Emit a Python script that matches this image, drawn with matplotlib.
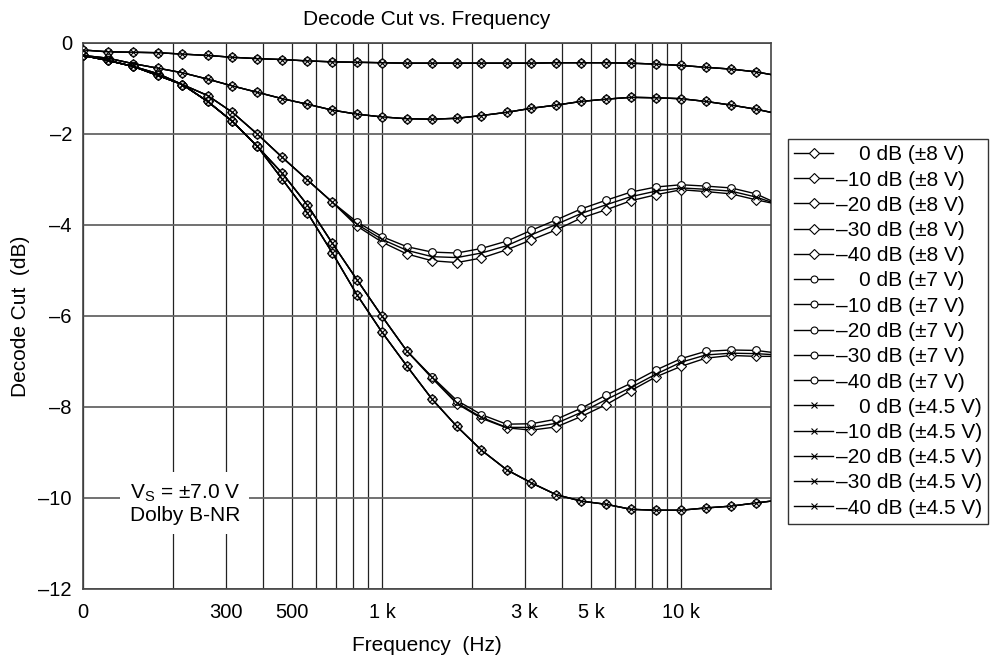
import numpy as np
import matplotlib
matplotlib.use("Agg")
import matplotlib.pyplot as plt
from matplotlib.ticker import FixedLocator, FixedFormatter, NullFormatter

plt.rcParams['font.family'] = ['Liberation Sans', 'DejaVu Sans']
plt.rcParams['mathtext.fontset'] = 'custom'
plt.rcParams['mathtext.rm'] = 'Liberation Sans'

# frequency points (Hz), 12 per decade, plus the 20 kHz end point (no marker)
freqs = [100, 121, 147, 178, 215, 261, 316, 383, 464, 562, 681, 825,
         1000, 1210, 1470, 1780, 2150, 2610, 3160, 3830, 4640, 5620, 6810,
         8250, 10000, 12100, 14700, 17800, 20000]

# decode cut (dB)
# 0 dB level - all supplies on top of each other
cut_0db = [-0.16, -0.20, -0.21, -0.22, -0.25, -0.28, -0.32, -0.35, -0.37, -0.40,
           -0.42, -0.43, -0.44, -0.45, -0.45, -0.45, -0.45, -0.45, -0.45, -0.44,
           -0.44, -0.44, -0.45, -0.47, -0.50, -0.54, -0.58, -0.64, -0.70]
# -10 dB level
cut_10db = [-0.28, -0.34, -0.46, -0.56, -0.66, -0.80, -0.95, -1.09, -1.23, -1.35,
            -1.48, -1.57, -1.63, -1.67, -1.68, -1.66, -1.60, -1.53, -1.44, -1.37,
            -1.29, -1.24, -1.20, -1.21, -1.23, -1.29, -1.37, -1.46, -1.53]
# -20 dB level, per supply
cut_20db_8v = [-0.28, -0.39, -0.52, -0.68, -0.92, -1.16, -1.53, -2.01, -2.52, -3.01,
               -3.50, -4.03, -4.38, -4.64, -4.79, -4.83, -4.73, -4.55, -4.33, -4.11,
               -3.85, -3.67, -3.47, -3.34, -3.23, -3.27, -3.32, -3.45, -3.52]
cut_20db_7v = [-0.28, -0.39, -0.52, -0.68, -0.92, -1.16, -1.53, -2.01, -2.52, -3.01,
               -3.50, -3.94, -4.26, -4.48, -4.60, -4.62, -4.52, -4.36, -4.12, -3.89,
               -3.65, -3.46, -3.28, -3.17, -3.12, -3.15, -3.19, -3.32, -3.47]
cut_20db_45v = [-0.28, -0.39, -0.52, -0.68, -0.92, -1.16, -1.53, -2.01, -2.52, -3.01,
                -3.50, -3.99, -4.32, -4.56, -4.70, -4.72, -4.62, -4.46, -4.22, -3.99,
                -3.75, -3.56, -3.38, -3.26, -3.19, -3.22, -3.26, -3.39, -3.50]
# -30 dB level, per supply
cut_30db_8v = [-0.28, -0.39, -0.52, -0.72, -0.92, -1.29, -1.73, -2.28, -2.87, -3.56,
               -4.40, -5.21, -6.01, -6.77, -7.37, -7.93, -8.25, -8.46, -8.51, -8.44,
               -8.21, -7.95, -7.64, -7.34, -7.11, -6.93, -6.87, -6.89, -6.89]
cut_30db_7v = [-0.28, -0.39, -0.52, -0.72, -0.92, -1.29, -1.73, -2.28, -2.87, -3.56,
               -4.40, -5.21, -6.01, -6.77, -7.34, -7.86, -8.17, -8.38, -8.37, -8.27,
               -8.03, -7.74, -7.48, -7.19, -6.94, -6.78, -6.75, -6.76, -6.80]
cut_30db_45v = [-0.28, -0.39, -0.52, -0.72, -0.92, -1.29, -1.73, -2.28, -2.87, -3.56,
                -4.40, -5.21, -6.01, -6.77, -7.35, -7.91, -8.23, -8.45, -8.45, -8.36,
                -8.12, -7.84, -7.57, -7.28, -7.02, -6.86, -6.82, -6.83, -6.85]
# -40 dB level
cut_40db = [-0.28, -0.39, -0.52, -0.72, -0.92, -1.29, -1.73, -2.28, -3.00, -3.73,
            -4.61, -5.54, -6.36, -7.10, -7.83, -8.43, -8.95, -9.38, -9.67, -9.93,
            -10.07, -10.14, -10.25, -10.27, -10.27, -10.22, -10.18, -10.11, -10.07]

levels = ['0 dB', '\u201310 dB', '\u201320 dB', '\u201330 dB', '\u201340 dB']
supplies = ['\u00b18 V', '\u00b17 V', '\u00b14.5 V']
series = {
    '\u00b18 V': [cut_0db, cut_10db, cut_20db_8v, cut_30db_8v, cut_40db],
    '\u00b17 V': [cut_0db, cut_10db, cut_20db_7v, cut_30db_7v, cut_40db],
    '\u00b14.5 V': [cut_0db, cut_10db, cut_20db_45v, cut_30db_45v, cut_40db],
}

xticks = [100, 300, 500, 1000, 3000, 5000, 10000]
xtick_labels = ['0', '300', '500', '1 k', '3 k', '5 k', '10 k']
xminor = [200, 400, 600, 700, 800, 900, 2000, 4000, 6000, 7000, 8000, 9000]
yticks = [0, -2, -4, -6, -8, -10, -12]
ytick_labels = ['0', '\u20132', '\u20134', '\u20136', '\u20138', '\u201310', '\u201312']

fig = plt.figure(figsize=(10.03, 6.6), dpi=100)
ax = fig.add_axes([0.0828, 0.1076, 0.6859, 0.8277])

styles = {
    '\u00b18 V': dict(marker='D', ms=5.5, mfc='white', mec='black', mew=0.8, zorder=3),
    '\u00b17 V': dict(marker='o', ms=5.5, mfc='white', mec='black', mew=0.8, zorder=4),
    '\u00b14.5 V': dict(marker='x', ms=4.5, mec='black', mew=0.8, zorder=5),
}

handles = []
labels = []
for sup in supplies:
    for lev, vals in zip(levels, series[sup]):
        ln, = ax.plot(freqs, vals, color='black', lw=1.0,
                      markevery=slice(0, 28), **styles[sup])
        handles.append(ln)
        name = lev if lev != '0 dB' else '    0 dB'
        labels.append(f'{name} ({sup})')

ax.set_xscale('log')
ax.set_xlim(100, 20000)
ax.set_ylim(-12, 0)
ax.xaxis.set_major_locator(FixedLocator(xticks))
ax.xaxis.set_major_formatter(FixedFormatter(xtick_labels))
ax.xaxis.set_minor_locator(FixedLocator(xminor))
ax.xaxis.set_minor_formatter(NullFormatter())
ax.yaxis.set_major_locator(FixedLocator(yticks))
ax.yaxis.set_major_formatter(FixedFormatter(ytick_labels))

ax.grid(True, axis='x', which='both', color='#222222', lw=0.9)
ax.grid(True, axis='y', which='major', color='#666666', lw=1.3)
ax.set_axisbelow(True)
ax.tick_params(axis='both', which='both', length=0, labelsize=14.5)
ax.tick_params(axis='x', pad=10)
ax.tick_params(axis='y', pad=8)
for sp in ax.spines.values():
    sp.set_color('#444444')
    sp.set_linewidth(1.2)

ax.set_title('Decode Cut vs. Frequency', fontsize=15, pad=12.5)
ax.set_xlabel('Frequency  (Hz)', fontsize=15, labelpad=10)
ax.set_ylabel('Decode Cut  (dB)', fontsize=15, labelpad=6)

ax.text(0.148, 0.156, 'V$_\\mathregular{S}$ = \u00b17.0 V\nDolby B-NR', transform=ax.transAxes,
        ha='center', va='center', fontsize=15, linespacing=1.1, zorder=6,
        bbox=dict(boxstyle='square,pad=0.45', fc='white', ec='none'))

leg = fig.legend(handles, labels, loc='upper left',
                 bbox_to_anchor=(788 / 1003, 1 - 139 / 660), borderaxespad=0,
                 fontsize=15, frameon=True, fancybox=False, edgecolor='black',
                 handlelength=1.85, handletextpad=0.15, labelspacing=0.3,
                 borderpad=0.3)
leg.get_frame().set_linewidth(1.0)
for h in leg.legend_handles:
    h.set_markersize(5)

fig.savefig('out.png', dpi=100)
